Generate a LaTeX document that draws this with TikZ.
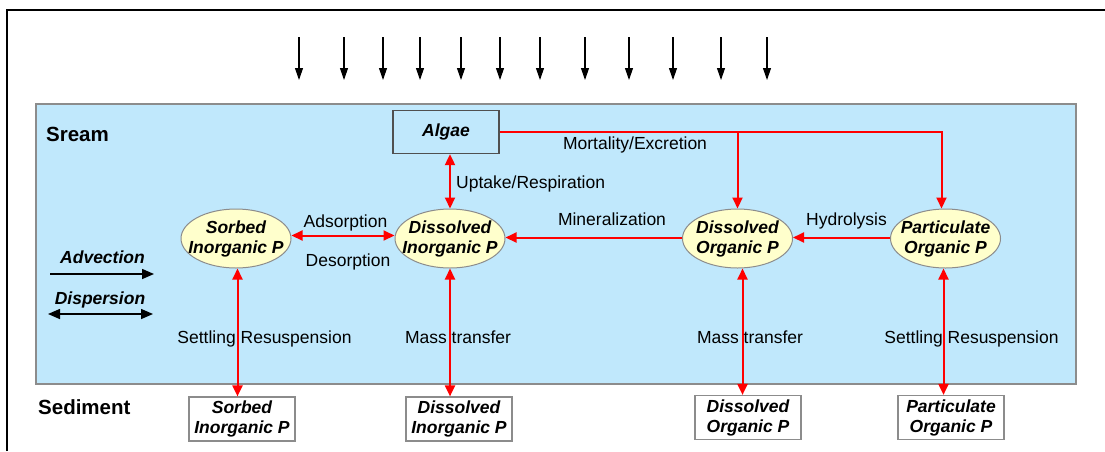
\documentclass[tikz,border=0pt]{standalone}
\usepackage{fontspec}
\setmainfont{Liberation Sans}
\usetikzlibrary{arrows.meta,shapes.geometric}
\definecolor{streamblue}{RGB}{192,232,252}
\definecolor{ellfill}{RGB}{255,255,204}
\definecolor{edgegray}{RGB}{140,140,140}
\definecolor{boxgray}{RGB}{80,80,80}
\definecolor{arrred}{RGB}{255,0,0}
\begin{document}
\begin{tikzpicture}[x=1pt,y=-1pt,
  lab/.style={font=\fontsize{17.5}{20}\selectfont, inner sep=0pt, anchor=base},
  head/.style={font=\fontsize{20.5}{24}\selectfont\bfseries, inner sep=0pt, anchor=base west},
  bilab/.style={font=\fontsize{17.5}{20}\selectfont\bfseries\itshape, inner sep=0pt, anchor=base},
  ell/.style={ellipse, draw=edgegray, line width=1pt, fill=ellfill, minimum width=110pt, minimum height=59pt, inner xsep=-10pt, inner ysep=0pt, align=center, font=\fontsize{17.5}{20}\selectfont\bfseries\itshape},
  sedbox/.style={rectangle, draw=edgegray, line width=1.2pt, fill=white, minimum width=106pt, minimum height=44pt, inner sep=0pt, align=center, font=\fontsize{17.5}{20}\selectfont\bfseries\itshape},
  algbox/.style={rectangle, draw=boxgray, line width=1.3pt, fill=streamblue, minimum width=106pt, minimum height=43pt, inner sep=0pt, font=\fontsize{17.5}{20}\selectfont\bfseries\itshape},
  redline/.style={draw=arrred, line width=2pt},
  rarr/.style={redline, -{Triangle[length=11pt,width=10pt]}},
  rbiarr/.style={redline, {Triangle[length=11pt,width=10pt]}-{Triangle[length=11pt,width=10pt]}},
  karr/.style={draw=black, line width=1.1pt, -{Triangle[length=12pt,width=8pt]}},
  kbig/.style={draw=black, line width=1.5pt, -{Triangle[length=12pt,width=10pt]}},
  kbibig/.style={draw=black, line width=1.5pt, {Triangle[length=12pt,width=10pt]}-{Triangle[length=12pt,width=10pt]}}
]
\useasboundingbox (0,0) rectangle (1105,451);
% outer frame
\draw[line width=2pt] (7,451) -- (7,10) -- (1105,10);
% stream area
\draw[draw=edgegray, fill=streamblue, line width=1.2pt] (36,104) rectangle (1076,384);
% incoming arrows
\foreach \x [count=\i] in {299,344,383,420,461,500,540,585,629,673,721,767}{
  \coordinate (t\i) at (\x,37);
  \coordinate (b\i) at (\x,80);
  \draw[karr] (t\i) -- (b\i);
}
% headings
\node[head] (sream) at (46,141) {Sream};
\node[head] (sediment) at (38,414) {Sediment};
% nodes
\node[algbox] (algae) at (446,132) {Algae};
\node[ell] (sip) at (236,238.5) {Sorbed\\Inorganic P};
\node[ell] (dip) at (450,238.5) {Dissolved\\Inorganic P};
\node[ell] (dop) at (737.5,238.5) {Dissolved\\Organic P};
\node[ell] (pop) at (945.5,238.5) {Particulate\\Organic P};
\node[sedbox] (sip2) at (242,419) {Sorbed\\Inorganic P};
\node[sedbox] (dip2) at (459,419) {Dissolved\\Inorganic P};
\node[sedbox] (dop2) at (748,417.5) {Dissolved\\Organic P};
\node[sedbox] (pop2) at (951,417.5) {Particulate\\Organic P};
% algae connections
\draw[rarr] (algae.east) -| ([xshift=-4pt]pop.north);
\coordinate (branch) at (dop.north |- algae.east);
\draw[rarr] (branch) -- (dop.north);
\draw[rbiarr] (algae.south -| dip.north) -- (dip.north);
% horizontal transfers
\draw[rbiarr] ([yshift=3pt]sip.east) -- ([yshift=3pt]dip.west);
\draw[rarr] ([yshift=1pt]dop.west) -- ([yshift=1pt]dip.east);
\draw[rarr] ([yshift=1pt]pop.west) -- ([yshift=1pt]dop.east);
% vertical exchanges
\draw[rbiarr] ([xshift=1.5pt]sip.south) -- ([xshift=1.5pt]sip.south |- sip2.north);
\draw[rbiarr] (dip.south) -- (dip.south |- dip2.north);
\draw[rbiarr] ([xshift=5pt]dop.south) -- ([xshift=5pt]dop.south |- dop2.north);
\draw[rbiarr] ([xshift=-2pt]pop.south) -- ([xshift=-2pt]pop.south |- pop2.north);
% labels
\node[lab] (lmort) at (635,149.5) {Mortality/Excretion};
\node[lab, anchor=base west] (lupt) at (456,188) {Uptake/Respiration};
\node[lab] (lads) at (345.5,227) {Adsorption};
\node[lab] (ldes) at (348,266) {Desorption};
\node[lab] (lmin) at (612,225) {Mineralization};
\node[lab] (lhyd) at (846.5,225) {Hydrolysis};
\node[lab] (lset1) at (264.5,343) {Settling Resuspension};
\node[lab] (lmass1) at (458,343) {Mass transfer};
\node[lab] (lmass2) at (750,343) {Mass transfer};
\node[lab] (lset2) at (971.5,343) {Settling Resuspension};
% advection / dispersion
\node[bilab] (ladv) at (102.5,263) {Advection};
\node[bilab] (ldisp) at (100,304) {Dispersion};
\coordinate (adv1) at (50,274);
\coordinate (adv2) at (154,274);
\draw[kbig] (adv1) -- (adv2);
\coordinate (dis1) at (48,314);
\coordinate (dis2) at (153,314);
\draw[kbibig] (dis1) -- (dis2);
\end{tikzpicture}
\end{document}
